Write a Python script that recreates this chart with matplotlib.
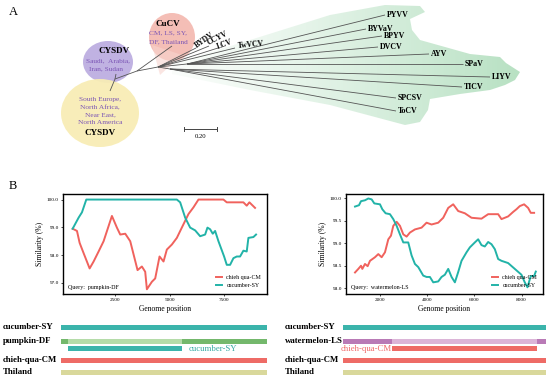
import numpy as np
import matplotlib
matplotlib.use("Agg")
import matplotlib.pyplot as plt
from matplotlib.patches import Ellipse, Polygon, Rectangle
from matplotlib.transforms import blended_transform_factory

plt.rcParams['font.family'] = ['Liberation Serif', 'DejaVu Serif']

# ---- data: similarity plots ----
pumpkin_cm_x = [543, 742, 864, 1047, 1323, 1506, 1735, 1965, 2347, 2576, 2729, 2959, 3188, 3524,
                3723, 3876, 3953, 4182, 4335, 4534, 4717, 4870, 5100, 5329, 5558, 5864, 6093, 6322,
                7469, 7622, 8386, 8539, 8661, 8921]
pumpkin_cm_y = [98.95, 98.87, 98.44, 98.07, 97.52, 97.77, 98.13, 98.5, 99.41, 98.99, 98.74, 98.77,
                98.5, 97.46, 97.59, 97.4, 96.77, 97.04, 97.16, 97.95, 97.77, 98.2, 98.38, 98.62,
                98.99, 99.48, 99.72, 100.0, 100.0, 99.9, 99.9, 99.78, 99.9, 99.7]
pumpkin_sy_x = [543, 818, 971, 1170, 5329, 5482, 5711, 5941, 6170, 6399, 6628, 6735, 6858, 6980,
                7087, 7240, 7500, 7622, 7775, 7928, 8081, 8234, 8386, 8539, 8616, 8845, 8967]
pumpkin_sy_y = [98.95, 99.35, 99.54, 100.0, 100.0, 99.9, 99.35, 98.99, 98.89, 98.68, 98.74, 98.99,
                98.93, 98.77, 98.87, 98.5, 97.95, 97.65, 97.65, 97.89, 97.95, 97.95, 98.16, 98.13,
                98.62, 98.65, 98.74]

melon_cm_x = [942, 1083, 1196, 1252, 1365, 1478, 1577, 1788, 1929, 2071, 2212, 2353, 2466, 2564,
              2706, 2847, 2988, 3129, 3270, 3482, 3764, 3975, 4187, 4469, 4681, 4893, 5104, 5316,
              5598, 5880, 6303, 6586, 7009, 7150, 7432, 7644, 7785, 7926, 8109, 8279, 8392, 8533]
melon_cm_y = [98.35, 98.43, 98.5, 98.43, 98.54, 98.49, 98.61, 98.69, 98.76, 98.69, 98.8, 99.09,
              99.17, 99.39, 99.48, 99.39, 99.2, 99.15, 99.24, 99.31, 99.35, 99.46, 99.42, 99.46,
              99.57, 99.79, 99.87, 99.72, 99.67, 99.57, 99.55, 99.65, 99.65, 99.54, 99.6, 99.7,
              99.76, 99.83, 99.87, 99.79, 99.68, 99.68]
melon_sy_x = [942, 1111, 1196, 1365, 1506, 1647, 1760, 2000, 2099, 2240, 2423, 2564, 2706, 2847,
              2988, 3199, 3340, 3482, 3623, 3834, 3975, 4116, 4258, 4469, 4610, 4751, 4893, 5034,
              5175, 5316, 5457, 5669, 5810, 6021, 6162, 6303, 6444, 6586, 6727, 6868, 7009, 7150,
              7432, 7714, 7996, 8137, 8251, 8392, 8533, 8604]
melon_sy_y = [99.82, 99.85, 99.94, 99.96, 100.0, 99.98, 99.89, 99.87, 99.76, 99.67, 99.65, 99.54,
              99.39, 99.2, 99.02, 99.02, 98.73, 98.54, 98.47, 98.28, 98.25, 98.25, 98.13, 98.15,
              98.25, 98.3, 98.43, 98.25, 98.13, 98.36, 98.61, 98.8, 98.91, 99.02, 99.09, 98.96,
              98.93, 99.03, 98.98, 98.87, 98.65, 98.61, 98.56, 98.43, 98.3, 98.13, 98.02, 98.27,
              98.27, 98.37]

series_names = ["chieh qua-CM", "cucumber-SY"]
queries = ["Query:  pumpkin-DF", "Query:  watermelon-LS"]

# ---- data: genome tracks ----
track_names = ["cucumber-SY", "pumpkin-DF", "chieh-qua-CM", "Thiland"]
track_names_r = ["cucumber-SY", "watermelon-LS", "chieh-qua-CM", "Thiland"]
genome_l = [0, 9450]
recomb_l = [340, 5570]
genome_r = [430, 9020]
recomb_r = [2510, 8660]
donor_l = "cucumber-SY"
donor_r = "chieh-qua-CM"

# ---- data: tree tips ----
tips = ["PYVV", "BYVaV", "BPYV", "DVCV", "AYV", "SPaV", "LIYV", "TICV", "SPCSV", "ToCV"]
short_tips = ["BYDV", "CCYV", "LCV", "TwVCV"]

RED = "#f0625d"
TEAL = "#22b3a8"
PURPLE_TXT = "#7b55b5"

fig = plt.figure(figsize=(5.5, 3.81), dpi=100)
bg = fig.add_axes([0, 0, 1, 1])
bg.set_xlim(0, 550)
bg.set_ylim(381, 0)
bg.axis("off")

# ---------------- panel A ----------------
bg.text(9, 12, "A", fontsize=9, va="center")
bg.text(9, 186, "B", fontsize=9, va="center")

# green fan with horizontal gradient
fan = [(172, 64), (250, 40), (330, 15), (385, 5), (420, 6), (425, 12), (410, 19), (412, 30),
       (420, 40), (445, 47), (470, 54), (500, 57), (506, 63), (520, 72), (515, 80), (505, 85),
       (490, 90), (460, 94), (430, 99), (428, 110), (420, 122), (405, 125), (330, 105),
       (250, 90), (172, 74)]
fan_poly = Polygon(fan, closed=True, facecolor="none", edgecolor="none")
bg.add_patch(fan_poly)
grad = np.zeros((2, 200, 4))
grad[..., 0] = 0.62
grad[..., 1] = 0.84
grad[..., 2] = 0.68
grad[..., 3] = 0.05 + 0.7 * np.linspace(0.0, 1.0, 200) ** 1.2
im = bg.imshow(grad, extent=(170, 525, 130, 0), aspect="auto", zorder=1, interpolation="bilinear")
im.set_clip_path(fan_poly)
bg.set_xlim(0, 550)
bg.set_ylim(381, 0)

bg.add_patch(Ellipse((108, 62), 50, 42, facecolor="#b5a5dd", edgecolor="none", alpha=0.85, zorder=1))
bg.add_patch(Ellipse((172, 37), 46, 48, facecolor="#f3b3aa", edgecolor="none", alpha=0.85, zorder=1))
bg.add_patch(Polygon([(152, 45), (160, 75), (182, 55)], facecolor="#f8d5cf", edgecolor="none",
                     alpha=0.6, zorder=1))
bg.add_patch(Ellipse((100, 113), 78, 68, facecolor="#f8edb5", edgecolor="none", alpha=0.95, zorder=1))

# tree branches
tree_kw = dict(color="#555555", lw=0.6, zorder=3, solid_capstyle="butt")
n1, root, n2 = (115, 79), (137, 71), (158, 67)
up, low = (187, 64), (170, 69)
bg.plot([110, n1[0]], [91, n1[1]], **tree_kw)
bg.plot([n1[0], 116], [n1[1], 74], **tree_kw)
bg.plot([n1[0], root[0]], [n1[1], root[1]], **tree_kw)
bg.plot([root[0], 172], [root[1], 46], **tree_kw)
bg.plot([root[0], n2[0]], [root[1], n2[1]], **tree_kw)
bg.plot([n2[0], up[0]], [n2[1], up[1]], **tree_kw)
bg.plot([n2[0], low[0]], [n2[1], low[1]], **tree_kw)

short_ends = [(196, 48), (209, 46), (218, 48), (235, 48)]
short_lab = [(205, 40, 35), (218, 38, 27), (225, 44, 20), (251, 45, 5)]
for name, (ex, ey), (lx, ly, rot) in zip(short_tips, short_ends, short_lab):
    bg.plot([n2[0], ex], [n2[1], ey], **tree_kw)
    bg.text(lx, ly, name, fontsize=5.5, fontweight="bold", rotation=rot,
            ha="center", va="center", zorder=4)

tip_ends = [(385, 15), (366, 29), (382, 36), (378, 47), (429, 54), (463, 64), (490, 77),
            (462, 87), (396, 98), (396, 111)]
for i, (name, (ex, ey)) in enumerate(zip(tips, tip_ends)):
    start = up if i < 6 else low
    bg.plot([start[0], ex], [start[1], ey], **tree_kw)
    bg.text(ex + 2, ey, name, fontsize=5.7, fontweight="bold", ha="left", va="center", zorder=4)

# clade labels
ptxt = dict(fontsize=5.3, color=PURPLE_TXT, ha="center", va="center", zorder=4)
bg.text(168, 24, "CuCV", fontsize=6.5, fontweight="bold", ha="center", va="center", zorder=4)
bg.text(168, 33, "CM, LS, SY,", **ptxt)
bg.text(168, 42, "DF, Thailand", **ptxt)
bg.text(114, 51, "CYSDV", fontsize=6.5, fontweight="bold", ha="center", va="center", zorder=4)
bg.text(108, 61, "Saudi,  Arabia,", **ptxt)
bg.text(106, 69, "Iran, Sudan", **ptxt)
for k, line in enumerate(["South Europe,", "North Africa,", "Near East,", "North America"]):
    bg.text(100, 100 + 7.5 * k, line, **ptxt)
bg.text(100, 133, "CYSDV", fontsize=6.5, fontweight="bold", ha="center", va="center", zorder=4)

# scale bar
bg.plot([184, 217], [129, 129], color="#444444", lw=0.7)
bg.plot([184, 184], [127, 131], color="#444444", lw=0.7)
bg.plot([217, 217], [127, 131], color="#444444", lw=0.7)
bg.text(200.5, 137, "0.20", fontsize=4.8, ha="center", va="center")

# ---------------- panel B ----------------
W, H = 550.0, 381.0
ax_l = fig.add_axes([63 / W, 1 - 294 / H, 204 / W, 100 / H])
ax_r = fig.add_axes([346 / W, 1 - 294 / H, 197 / W, 100 / H])

panels = [
    (ax_l, pumpkin_cm_x, pumpkin_cm_y, pumpkin_sy_x, pumpkin_sy_y, queries[0],
     (100, 9470), (96.6, 100.2), [2500, 5000, 7500], [97.0, 98.0, 99.0, 100.0]),
    (ax_r, melon_cm_x, melon_cm_y, melon_sy_x, melon_sy_y, queries[1],
     (560, 8910), (97.87, 100.1), [2000, 4000, 6000, 8000], [98.0, 98.5, 99.0, 99.5, 100.0]),
]
for ax, cx, cy, sx, sy, q, xl, yl, xt, yt in panels:
    ax.plot(cx, cy, color=RED, lw=1.4, label=series_names[0])
    ax.plot(sx, sy, color=TEAL, lw=1.4, label=series_names[1])
    ax.set_xlim(*xl)
    ax.set_ylim(*yl)
    ax.set_xticks(xt)
    ax.set_yticks(yt)
    ax.set_yticklabels([f"{v:.1f}" for v in yt])
    ax.tick_params(labelsize=3.8, length=1.5, width=0.5, pad=1.5)
    for s in ax.spines.values():
        s.set_linewidth(1.0)
    ax.set_ylabel("Similarity (%)", fontsize=5.5, labelpad=2)
    ax.set_xlabel("Genome position", fontsize=5.5, labelpad=2)
    ax.text(0.025, 0.07, q, transform=ax.transAxes, fontsize=4.3, va="center", ha="left")
    ax.legend(loc="lower right", fontsize=4.3, frameon=False, handlelength=1.0,
              handleheight=0.6, labelspacing=0.5, borderaxespad=0.6)

# genome tracks
track_y = [327, 341, 360, 372]
sub_y = 348
bh = 5.0


def track(ax, x0, x1, y, color, h=bh):
    tr = blended_transform_factory(ax.transData, bg.transData)
    bg.add_patch(Rectangle((x0, y - h / 2), x1 - x0, h, transform=tr, facecolor=color,
                           edgecolor="none", clip_on=False))


# left tracks
track(ax_l, genome_l[0], genome_l[1], track_y[0], "#3bb4ab")
track(ax_l, genome_l[0], genome_l[1], track_y[1], "#74b86c")
track(ax_l, recomb_l[0], recomb_l[1], track_y[1], "#b5dca9")
track(ax_l, recomb_l[0], recomb_l[1], sub_y, "#3bb4ab")
track(ax_l, genome_l[0], genome_l[1], track_y[2], "#ee6b66")
track(ax_l, genome_l[0], genome_l[1], track_y[3], "#d9d89b")
for name, y in zip(track_names, track_y):
    bg.text(3, y, name, fontsize=6.3, fontweight="bold", ha="left", va="center")
tr_l = blended_transform_factory(ax_l.transData, bg.transData)
bg.text(recomb_l[1] + 300, sub_y + 1, donor_l, transform=tr_l, fontsize=6.3,
        color="#35a9a2", ha="left", va="center")

# right tracks
track(ax_r, genome_r[0], genome_r[1], track_y[0], "#3bb4ab")
track(ax_r, genome_r[0], genome_r[1], track_y[1], "#b97ab6")
track(ax_r, recomb_r[0], recomb_r[1], track_y[1], "#dcb5d8")
track(ax_r, recomb_r[0], recomb_r[1], sub_y, "#ee6b66")
track(ax_r, genome_r[0], genome_r[1], track_y[2], "#ee6b66")
track(ax_r, genome_r[0], genome_r[1], track_y[3], "#d9d89b")
for name, y in zip(track_names_r, track_y):
    bg.text(285, y, name, fontsize=6.3, fontweight="bold", ha="left", va="center")
tr_r = blended_transform_factory(ax_r.transData, bg.transData)
bg.text(recomb_r[0] - 20, sub_y + 1, donor_r, transform=tr_r, fontsize=6.3,
        color="#f06a6a", ha="right", va="center")

fig.savefig("out.png", dpi=100)
